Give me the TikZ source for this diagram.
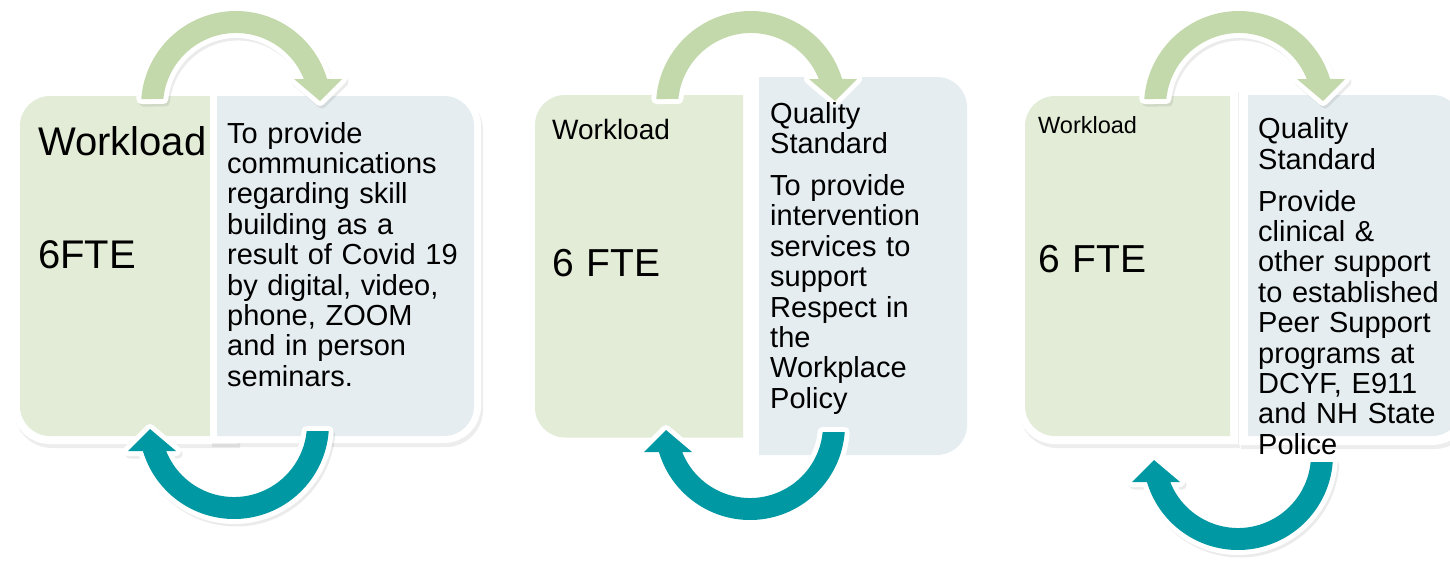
\documentclass[tikz,border=0pt]{standalone}
\usepackage{fontspec}
\setmainfont{Liberation Sans}
\definecolor{garrow}{HTML}{C3D9AB}
\definecolor{tarrow}{HTML}{0099A3}
\definecolor{gbox}{HTML}{E2ECD7}
\definecolor{bbox}{HTML}{E5EDF0}
\tikzset{
  arrowshape/.style={insert path={(-94.74,-7) arc[start angle=-175.77, end angle=-16.52, radius=95] -- (106,-27) -- (84,-5) -- (58,-27) -- (67.82,-27) arc[start angle=-21.7, end angle=-174.5, radius=73] -- cycle}},
  lbl/.style={inner sep=0pt, anchor=base west, text width=300pt, align=left},
  big/.style={font=\fontsize{40}{44}\selectfont},
  body/.style={font=\fontsize{29}{30.4}\selectfont},
}
% #1 cx, #2 cy, #3 rotation, #4 colour, #5 shadow opacity
\newcommand{\CycArrow}[5]{%
  \begin{scope}[shift={(#1+2,#2+3)}, rotate=#3]
    \path[fill=black, draw=black, line width=9, line join=round, opacity=#5] [arrowshape];
  \end{scope}
  \begin{scope}[shift={(#1,#2)}, rotate=#3]
    \path[fill=white, draw=white, line width=10, line join=round] [arrowshape];
    \path[fill=#4] [arrowshape];
  \end{scope}}
% box with rounded left corners: L T R B options
\newcommand{\LBox}[5]{\path[#5] (#3,#2) -- (#1+30,#2) arc[start angle=-90, end angle=-180, radius=30] -- (#1,#4-30) arc[start angle=180, end angle=90, radius=30] -- (#3,#4) -- cycle;}
% box with rounded right corners
\newcommand{\RBox}[5]{\path[#5] (#1,#2) -- (#3-30,#2) arc[start angle=-90, end angle=0, radius=30] -- (#3,#4-30) arc[start angle=0, end angle=90, radius=30] -- (#1,#4) -- cycle;}
\begin{document}
\begin{tikzpicture}[x=1pt, y=-1pt]
\useasboundingbox (0,0) rectangle (1450,560);
\clip (0,0) rectangle (1450,560);
\fill[white] (0,0) rectangle (1450,560);

% ---------- panel 1 ----------
\LBox{20}{96}{230}{436}{fill=black, draw=black, line width=16, opacity=.07, shift={(2,4)}}
\LBox{20}{96}{230}{436}{fill=white, draw=white, line width=16}
\LBox{20}{96}{230}{436}{fill=gbox}
\RBox{217}{96}{474}{436}{fill=black, draw=black, line width=14, opacity=.07, shift={(2,4)}}
\RBox{217}{96}{474}{436}{fill=white, draw=white, line width=14}
\RBox{217}{96}{474}{436}{fill=bbox}
\CycArrow{236}{106}{0}{garrow}{.08}
\CycArrow{234}{424}{180}{tarrow}{.08}

% ---------- panel 2 ----------
\LBox{535}{95}{743}{437.5}{fill=gbox}
\RBox{759}{77}{967}{455}{fill=bbox}
\CycArrow{751}{106}{0}{garrow}{0}
\CycArrow{750}{425}{180}{tarrow}{0}

% ---------- panel 3 ----------
\LBox{1025}{96}{1230}{436}{fill=black, draw=black, line width=16, opacity=.07, shift={(2,4)}}
\LBox{1025}{96}{1230}{436}{fill=white, draw=white, line width=16}
\LBox{1025}{96}{1230}{436}{fill=gbox}
\RBox{1248}{95}{1462}{436}{fill=black, draw=black, line width=18, opacity=.07, shift={(2,4)}}
\RBox{1248}{95}{1462}{436}{fill=white, draw=white, line width=18}
\RBox{1248}{95}{1462}{436}{fill=bbox}
\CycArrow{1239}{106}{0}{garrow}{.08}
\CycArrow{1238}{455}{180}{tarrow}{.08}

% ---------- texts ----------
\node[lbl, big] (w1) at (38,155) {Workload};
\node[lbl, big] (f1) at (38,268.6) {6FTE};
\node[lbl, body] (t1) at (227,143) {To provide\\communications\\regarding skill\\building as a\\result of Covid 19\\by digital, video,\\phone, ZOOM\\and in person\\seminars.};

\node[lbl, font=\fontsize{28}{30}\selectfont] (w2) at (552,139) {Workload};
\node[lbl, font=\fontsize{39}{42}\selectfont] (f2) at (552,276) {6 FTE};
\node[lbl, body] (t2) at (770,123) {Quality\\Standard\\[11.6pt]To provide\\intervention\\services to\\support\\Respect in\\the\\Workplace\\Policy};

\node[lbl, font=\fontsize{23.5}{26}\selectfont] (w3) at (1038,133) {Workload};
\node[lbl, font=\fontsize{39}{42}\selectfont] (f3) at (1038,272) {6 FTE};
\node[lbl, body] (t3) at (1258,138.6) {Quality\\Standard\\[11.6pt]Provide\\clinical \&\\other support\\to established\\Peer Support\\programs at\\DCYF, E911\\and NH State\\Police};
\end{tikzpicture}
\end{document}
